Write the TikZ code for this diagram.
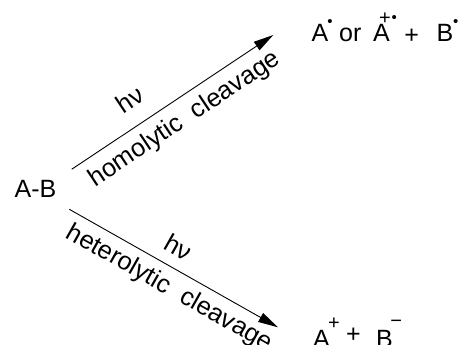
\documentclass[tikz,border=0pt]{standalone}
\usepackage{fontspec}
\setmainfont{Liberation Sans}
\usetikzlibrary{arrows.meta}
\begin{document}
\begin{tikzpicture}[x=1pt,y=-1pt,
  txt/.style={inner sep=0pt, font=\fontsize{25}{30}\selectfont},
  chg/.style={inner sep=0pt, font=\fontsize{20}{24}\selectfont, anchor=center},
  rad/.style={inner sep=0pt, font=\fontsize{15}{18}\selectfont, anchor=center},
  lbl/.style={inner sep=0pt, font=\fontsize{25.5}{30}\selectfont},
  rxn/.style={line width=0.9pt, -{Triangle[length=20pt,width=10pt]}}]
\useasboundingbox (0,0) rectangle (461,345);
% reactant
\node[txt, anchor=base west] (AB) at (14.5,197) {A-B};
% upper products
\node[txt, anchor=base west] (A1) at (311.5,42) {A};
\node[rad] (d1) at (330,22.7) {•};
\node[txt, anchor=base west] (or) at (339,42) {or};
\node[txt, anchor=base west] (A2) at (373,42) {A};
\node[chg] (p1) at (385,19.2) {+};
\node[rad] (d2) at (394.3,18.7) {•};
\node[txt, anchor=center] (plus1) at (411.7,36) {+};
\node[txt, anchor=base west] (B1) at (436.5,42) {B};
\node[rad] (d3) at (455.7,22.7) {•};
% lower products
\node[txt, anchor=base west] (A3) at (313,347.5) {A};
\node[chg] (p2) at (334,323.3) {+};
\node[txt, anchor=center] (plus2) at (353.3,335) {+};
\node[txt, anchor=base west] (B2) at (376,347.5) {B};
\node[chg] (m2) at (396.3,324) {−};
% arrows
\coordinate (s1) at (71.7,169.3);
\coordinate (e1) at (273.3,35);
\coordinate (s2) at (69.3,209.3);
\coordinate (e2) at (278,327.3);
\draw[rxn] (s1) -- (e1);
\draw[rxn] (s2) -- (e2);
% labels
\node[lbl, anchor=center, rotate=33.7] (hv1) at (130,99) {hν};
\node[lbl, anchor=base, rotate=33.7] (homo) at (188.5,125) {homolytic\ \ cleavage};
\node[lbl, anchor=center, rotate=-29.5] (hv2) at (178.3,246.7) {hν};
\node[lbl, anchor=base, rotate=-29.5] (hetero) at (166,294.5) {heterolytic\ \ cleavage};
\end{tikzpicture}
\end{document}
